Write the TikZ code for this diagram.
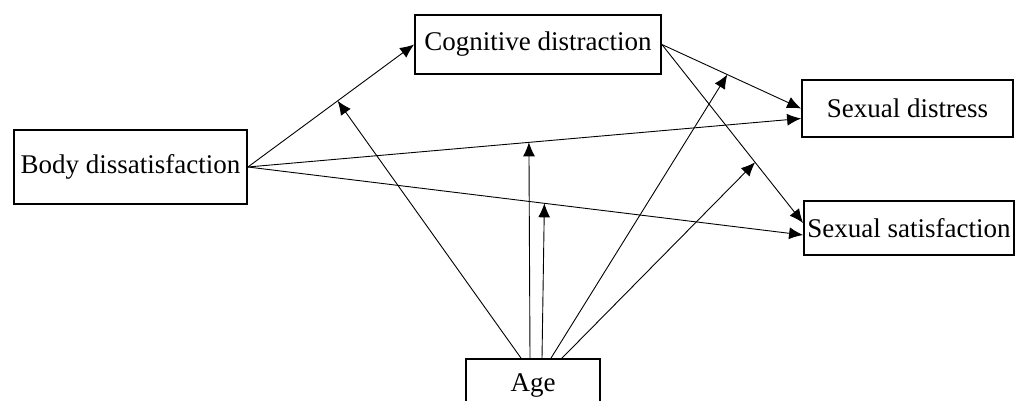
\documentclass[tikz,border=0pt]{standalone}
\usepackage{fontspec}
\setmainfont{Liberation Serif}
\usetikzlibrary{arrows.meta}
\tikzset{
  var/.style={
      draw,
      line width=1.8pt,
      rectangle,
      inner sep=0pt,
      text centered,
      font=\fontsize{27}{31}\selectfont
  },
  path/.style={
      line width=0.9pt,
      -{Latex[length=14pt,width=12pt]}
  }
}
\begin{document}
\begin{tikzpicture}[x=1pt,y=-1pt]
	\useasboundingbox (0,0) rectangle (1016,401);
	\node[var,minimum width=233pt,minimum height=74pt] (body) at (130.5,167) {Body dissatisfaction};
	\node[var,minimum width=246pt,minimum height=59pt] (cog) at (538,44.5) {Cognitive distraction};
	\node[var,minimum width=211pt,minimum height=57pt] (distress) at (907.5,108.5) {Sexual distress};
	\node[var,minimum width=210pt,minimum height=54pt] (satis) at (909,228) {Sexual satisfaction};
	\node[var,minimum width=134pt,minimum height=52pt] (age) at (533,385) {Age};
	\draw[path] (body.east) -- coordinate[pos=0.54] (m1) (cog.west);
	\draw[path] (body.east) -- coordinate[pos=0.508] (m2) ([yshift=-10pt]distress.west);
	\draw[path] (body.east) -- coordinate[pos=0.534] (m3) ([yshift=-7pt]satis.west);
	\draw[path] (cog.east) -- coordinate[pos=0.47] (m4) (distress.west);
	\draw[path] (cog.east) -- coordinate[pos=0.66] (m5) ([yshift=5pt]satis.west);
	\draw[path] ([xshift=-12pt]age.north) -- (m1);
	\draw[path] ([xshift=-3pt]age.north) -- (m2);
	\draw[path] ([xshift=9pt]age.north) -- (m3);
	\draw[path] ([xshift=18pt]age.north) -- (m4);
	\draw[path] ([xshift=29pt]age.north) -- (m5);
\end{tikzpicture}
\end{document}
